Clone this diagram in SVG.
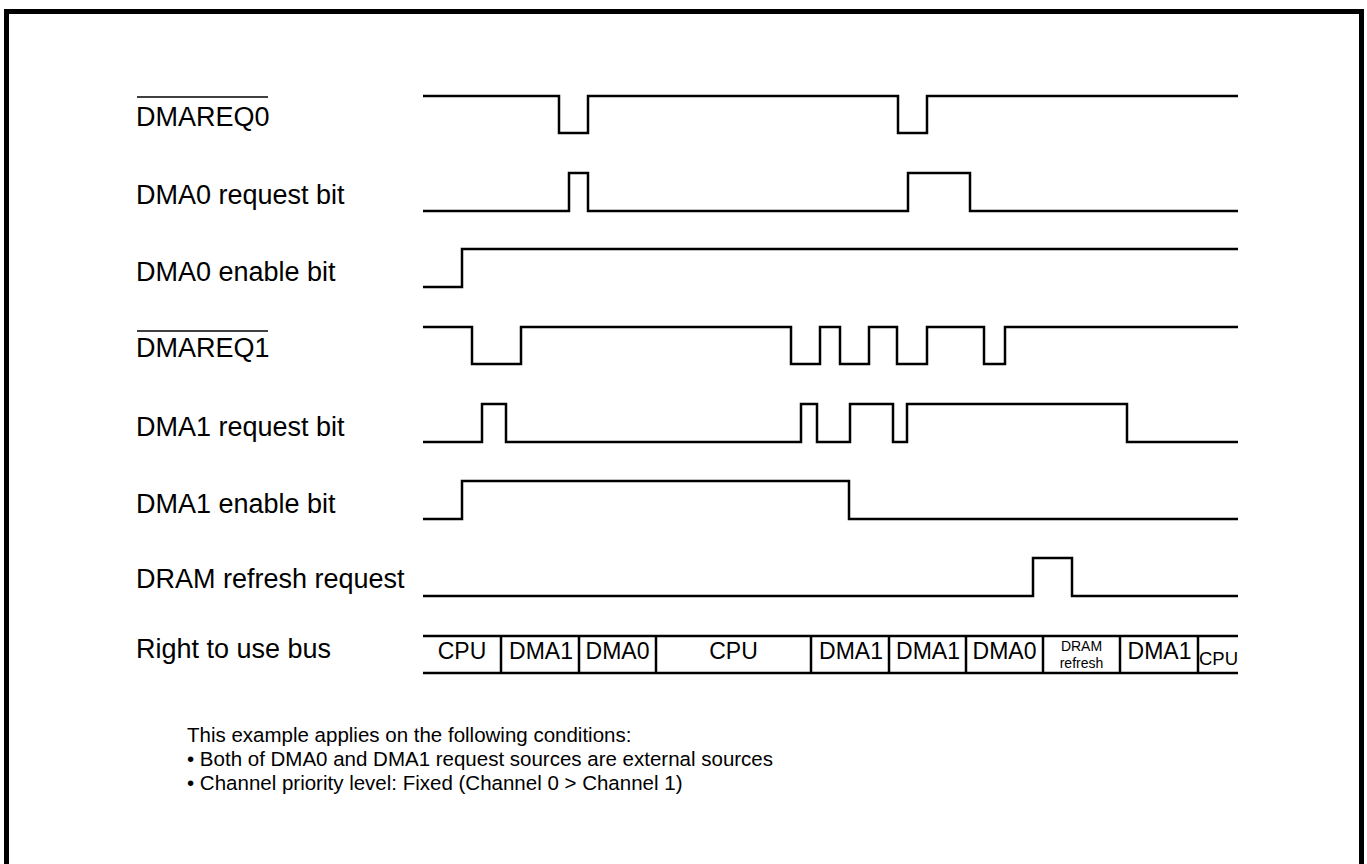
<svg xmlns="http://www.w3.org/2000/svg" width="1367" height="864" viewBox="0 0 1367 864">
<style>
  text { font-family: "Liberation Sans", Arial, sans-serif; fill: #000; }
  .lbl { font-size: 27px; }
  .bus { font-size: 23px; text-anchor: middle; }
  .small { font-size: 14px; text-anchor: middle; }
  .cpu { font-size: 18.5px; text-anchor: middle; }
  .note { font-size: 20.5px; }
  .wave { fill: none; stroke: #000; stroke-width: 2.5; stroke-linejoin: miter; }
  .ovl { stroke: #000; stroke-width: 1.5; }
  .frame { fill: none; stroke: #000; stroke-width: 5; }
</style>
<rect x="0" y="0" width="1367" height="864" fill="#fff"/>
<path class="frame" d="M6.5,864 V11.5 H1361.5 V864"/>

<g id="dmareq0">
  <text class="lbl" x="136" y="126">DMAREQ0</text>
  <line class="ovl" x1="137" y1="97" x2="268" y2="97"/>
  <path class="wave" d="M423,96 H559 V133 H588 V96 H898 V133 H927 V96 H1238"/>
</g>
<g id="dma0-request">
  <text class="lbl" x="136" y="204">DMA0 request bit</text>
  <path class="wave" d="M423,211 H569 V173 H588 V211 H908 V173 H970 V211 H1238"/>
</g>
<g id="dma0-enable">
  <text class="lbl" x="136" y="281">DMA0 enable bit</text>
  <path class="wave" d="M423,287 H462 V249 H1238"/>
</g>
<g id="dmareq1">
  <text class="lbl" x="136" y="357">DMAREQ1</text>
  <line class="ovl" x1="137" y1="331" x2="268" y2="331"/>
  <path class="wave" d="M423,327 H472 V364 H521 V327 H791 V364 H820 V327 H840 V364 H869 V327 H897 V364 H927 V327 H984 V364 H1005 V327 H1238"/>
</g>
<g id="dma1-request">
  <text class="lbl" x="136" y="436">DMA1 request bit</text>
  <path class="wave" d="M423,442 H482 V404 H506 V442 H801 V404 H817 V442 H850 V404 H893 V442 H907 V404 H1127 V442 H1238"/>
</g>
<g id="dma1-enable">
  <text class="lbl" x="136" y="513">DMA1 enable bit</text>
  <path class="wave" d="M423,519 H462 V481 H849 V519 H1238"/>
</g>
<g id="dram-refresh">
  <text class="lbl" x="136" y="588">DRAM refresh request</text>
  <path class="wave" d="M423,596 H1033 V558 H1072 V596 H1238"/>
</g>
<g id="bus">
  <text class="lbl" x="136" y="658">Right to use bus</text>
  <path class="wave" d="M423,636 H1238 M423,673 H1238 M501,636 V673 M579,636 V673 M656,636 V673 M811,636 V673 M889,636 V673 M966,636 V673 M1043,636 V673 M1120,636 V673 M1198,636 V673"/>
  <text class="bus" x="462" y="659">CPU</text>
  <text class="bus" x="541" y="659">DMA1</text>
  <text class="bus" x="617.5" y="659">DMA0</text>
  <text class="bus" x="733.5" y="659">CPU</text>
  <text class="bus" x="851" y="659">DMA1</text>
  <text class="bus" x="928" y="659">DMA1</text>
  <text class="bus" x="1004.5" y="659">DMA0</text>
  <text class="small" x="1081.5" y="650.5">DRAM</text>
  <text class="small" x="1081.5" y="667.5">refresh</text>
  <text class="bus" x="1159.5" y="659">DMA1</text>
  <text class="cpu" x="1218.5" y="665">CPU</text>
</g>
<g id="notes">
  <text class="note" x="187" y="742">This example applies on the following conditions:</text>
  <text class="note" x="187" y="766">• Both of DMA0 and DMA1 request sources are external sources</text>
  <text class="note" x="187" y="790">• Channel priority level: Fixed (Channel 0 &gt; Channel 1)</text>
</g>
</svg>
